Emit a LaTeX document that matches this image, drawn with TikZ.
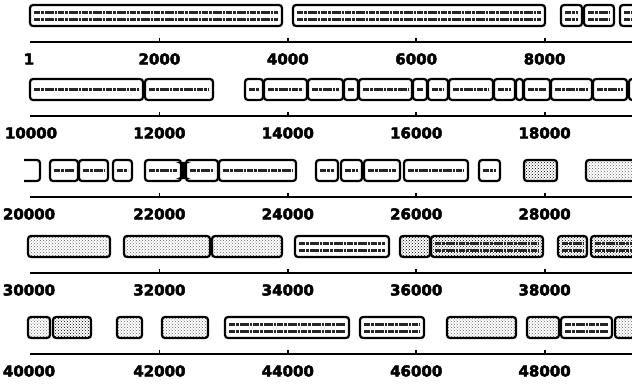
\documentclass[tikz,border=0pt]{standalone}
\usepackage{fontspec}
\setmainfont{DejaVu Sans}
\newfontfamily\lblfont[FakeBold=3]{DejaVu Sans Bold}
\usetikzlibrary{patterns}

\tikzset{
  gene/.style={draw, line width=2.2pt, rounded corners=3pt},
  dotgene/.style={gene, pattern=crosshatch dots, pattern color=black!60},
  densegene/.style={gene, pattern=crosshatch dots, pattern color=black},
  txtline/.style={line width=3pt, black!85, dash pattern=on 6pt off 0.8pt on 3pt off 1.2pt on 9pt off 0.8pt on 2pt off 1.2pt},
  axisline/.style={line width=2.8pt},
  tickmark/.style={line width=1.8pt},
  lbl/.style={font=\lblfont\fontsize{15}{15}\selectfont, inner sep=0pt}
}

% gene boxes, row frame: top at y=0, bottom at y=21
\newcommand{\onegene}[2]{\draw[gene] (#1,0) rectangle (#2,21);
  \draw[txtline] (#1+4,10.5) -- (#2-4,10.5);}
\newcommand{\twogene}[2]{\draw[gene] (#1,0) rectangle (#2,21);
  \draw[txtline] (#1+4,7) -- (#2-4,7);
  \draw[txtline] (#1+4,14) -- (#2-4,14);}
\newcommand{\dotbox}[2]{\draw[dotgene] (#1,0) rectangle (#2,21);}
\newcommand{\densebox}[2]{\draw[densegene] (#1,0) rectangle (#2,21);}
\newcommand{\mixbox}[2]{\draw[densegene] (#1,0) rectangle (#2,21);
  \draw[txtline] (#1+4,7) -- (#2-4,7);
  \draw[txtline] (#1+4,14) -- (#2-4,14);}

\begin{document}
\begin{tikzpicture}[x=1pt, y=-1pt]
    \useasboundingbox (0,0) rectangle (632,386);
    \clip (0,0) rectangle (632,386);

    % rulers
    \foreach \r/\top in {0/5, 1/79, 2/160, 3/236, 4/317} {
        \draw[axisline] (30,\top+37) -- (640,\top+37);
        \foreach \k in {1,...,4} {
            \draw[tickmark] (31+128.4*\k,\top+37) -- ++(0,-4);
            \edef\num{\the\numexpr\r*10000+\k*2000\relax}
            \node[lbl] (l\r\k) at (31+128.4*\k,\top+54) {\num};
        }
    }
    \node[lbl] (l00) at (29,59) {1};
    \node[lbl] (l10) at (31,133) {10000};
    \node[lbl] (l20) at (29,214) {20000};
    \node[lbl] (l30) at (29,290) {30000};
    \node[lbl] (l40) at (29,371) {40000};

    % row 1 -- 10000
    \begin{scope}[shift={(0,5)}]
        \twogene{30}{282}
        \twogene{293}{545}
        \twogene{561}{582}
        \twogene{584}{614}
        \twogene{620}{650}
    \end{scope}

    % row 10000 -- 20000
    \begin{scope}[shift={(0,79)}]
        \onegene{30}{143}
        \onegene{145}{213}
        \onegene{245}{263}
        \onegene{264}{307}
        \onegene{308}{343}
        \onegene{344}{358}
        \onegene{359}{412}
        \onegene{413}{427}
        \onegene{428}{448}
        \onegene{449}{493}
        \onegene{494}{515}
        \draw[gene] (516,0) rectangle (523,21);
        \onegene{524}{550}
        \onegene{551}{592}
        \onegene{593}{627}
        \onegene{629}{660}
    \end{scope}

    % row 20000 -- 30000
    \begin{scope}[shift={(0,160)}]
        \draw[gene] (24,0) -- (40,0) -- (40,21) -- (24,21);
        \onegene{50}{78}
        \onegene{79}{108}
        \onegene{113}{132}
        \onegene{145}{181}
        \draw[gene, fill=black] (182.5,3) rectangle (184,18);
        \onegene{186}{218}
        \onegene{219}{296}
        \onegene{316}{338}
        \onegene{341}{362}
        \onegene{364}{400}
        \onegene{404}{468}
        \onegene{479}{500}
        \densebox{524}{557}
        \dotbox{586}{660}
    \end{scope}

    % row 30000 -- 40000
    \begin{scope}[shift={(0,236)}]
        \dotbox{28}{110}
        \dotbox{124}{210}
        \dotbox{212}{282}
        \twogene{295}{389}
        \densebox{400}{430}
        \mixbox{431}{543}
        \mixbox{558}{587}
        \mixbox{591}{660}
    \end{scope}

    % row 40000 -- 50000
    \begin{scope}[shift={(0,317)}]
        \dotbox{28}{50}
        \densebox{53}{91}
        \dotbox{117}{142}
        \dotbox{162}{208}
        \twogene{225}{349}
        \twogene{360}{424}
        \dotbox{447}{516}
        \dotbox{527}{559}
        \twogene{561}{612}
        \dotbox{615}{660}
    \end{scope}
\end{tikzpicture}
\end{document}
